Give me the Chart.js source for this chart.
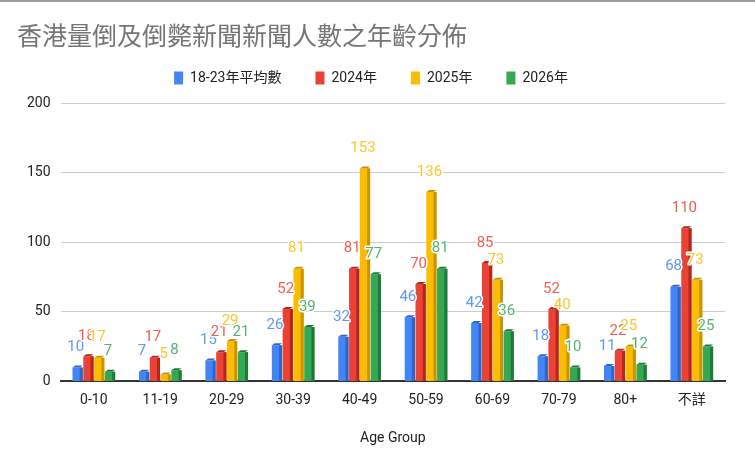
<!DOCTYPE html>
<html>
<head>
<meta charset="utf-8">
<script src="https://cdn.jsdelivr.net/npm/chart.js@4"></script>
<style>
  html, body { margin: 0; padding: 0; background: #fff; }
  #wrap { width: 755px; height: 467px; }
</style>
</head>
<body>
<div id="wrap"><canvas id="chart" width="755" height="467"></canvas></div>
<script>
const ageGroups = ['0-10', '11-19', '20-29', '30-39', '40-49', '50-59', '60-69', '70-79', '80+', '不詳'];
const avg1823 = [10, 7, 15, 26, 32, 46, 42, 18, 11, 68];
const year2024 = [18, 17, 21, 52, 81, 70, 85, 52, 22, 110];
const year2025 = [17, 5, 29, 81, 153, 136, 73, 40, 25, 73];
const year2026 = [7, 8, 21, 39, 77, 81, 36, 10, 12, 25];
const seriesNames = ['18-23年平均數', '2024年', '2025年', '2026年'];
const colors = ['#4285f4', '#ea4335', '#fbbc04', '#34a853'];
const sides = ['#2f66c4', '#b3261e', '#c99400', '#1f7a3a'];

// fake 3d look: darker right edge + top cap
const bar3d = {
    id: 'bar3d',
    afterDatasetsDraw(chart) {
        const ctx = chart.ctx;
        chart.data.datasets.forEach((ds, i) => {
            chart.getDatasetMeta(i).data.forEach((bar) => {
                const w = bar.width;
                const left = bar.x - w / 2;
                const right = bar.x + w / 2;
                const d = 3;
                ctx.save();
                ctx.fillStyle = sides[i];
                ctx.fillRect(right - d, bar.y, d, bar.base - bar.y);
                ctx.beginPath();
                ctx.moveTo(left, bar.y);
                ctx.lineTo(left + d, bar.y - 2);
                ctx.lineTo(right, bar.y - 2);
                ctx.lineTo(right - d, bar.y);
                ctx.closePath();
                ctx.fill();
                ctx.restore();
            });
        });
    },
};

const valueLabels = {
    id: 'valueLabels',
    afterDatasetsDraw(chart) {
        const ctx = chart.ctx;
        ctx.save();
        ctx.font = '15px Roboto';
        ctx.textAlign = 'center';
        ctx.textBaseline = 'middle';
        ctx.lineJoin = 'round';
        chart.data.datasets.forEach((ds, i) => {
            chart.getDatasetMeta(i).data.forEach((bar, j) => {
                const text = String(ds.data[j]);
                const y = bar.y - 20;
                ctx.strokeStyle = '#fff';
                ctx.lineWidth = 3;
                ctx.strokeText(text, bar.x - 2, y);
                ctx.fillStyle = colors[i];
                ctx.globalAlpha = 0.85;
                ctx.fillText(text, bar.x - 2, y);
                ctx.globalAlpha = 1;
            });
        });
        ctx.restore();
    },
};

const background = {
    id: 'background',
    beforeDraw(chart) {
        const ctx = chart.ctx;
        ctx.save();
        ctx.fillStyle = '#fff';
        ctx.fillRect(0, 0, chart.width, chart.height);
        ctx.fillStyle = '#9e9e9e';
        ctx.fillRect(0, 0, chart.width, 2);
        ctx.restore();
    },
};

// a bit more room under the legend
const legendGap = {
    id: 'legendGap',
    beforeInit(chart) {
        const fit = chart.legend.fit;
        chart.legend.fit = function () {
            fit.bind(this)();
            this.height += 8;
        };
    },
};

const allSeries = [avg1823, year2024, year2025, year2026];

new Chart(document.getElementById('chart'), {
    type: 'bar',
    data: {
        labels: ageGroups,
        datasets: allSeries.map((data, i) => ({
            label: seriesNames[i],
            data,
            backgroundColor: colors[i],
            borderWidth: 0,
            barPercentage: 0.95,
            categoryPercentage: 0.65,
        })),
    },
    options: {
        responsive: false,
        animation: false,
        layout: { padding: { left: 17, right: 30, top: 4, bottom: 16 } },
        plugins: {
            title: {
                display: true,
                text: '香港量倒及倒斃新聞新聞人數之年齡分佈',
                align: 'start',
                color: '#757575',
                font: { family: 'Roboto, "Noto Sans CJK TC"', size: 25, weight: 'normal' },
                padding: { top: 20, bottom: -17 },
            },
            legend: {
                labels: {
                    boxWidth: 9,
                    boxHeight: 13,
                    color: '#222',
                    font: { family: 'Roboto, "Noto Sans CJK TC"', size: 14 },
                    padding: 34,
                },
            },
            tooltip: { enabled: false },
        },
        scales: {
            x: {
                grid: { display: false },
                border: { color: '#333', width: 2 },
                ticks: { color: '#222', font: { family: 'Roboto, "Noto Sans CJK TC"', size: 14 }, padding: 3 },
                title: {
                    display: true,
                    text: 'Age Group',
                    color: '#222',
                    font: { family: 'Roboto', size: 14 },
                    padding: { top: 18 },
                },
            },
            y: {
                min: 0,
                max: 200,
                ticks: { stepSize: 50, color: '#222', font: { family: 'Roboto', size: 14 }, padding: 10 },
                grid: { color: '#ccc', drawTicks: false },
                border: { display: false },
            },
        },
    },
    plugins: [background, legendGap, bar3d, valueLabels],
});
</script>
</body>
</html>
